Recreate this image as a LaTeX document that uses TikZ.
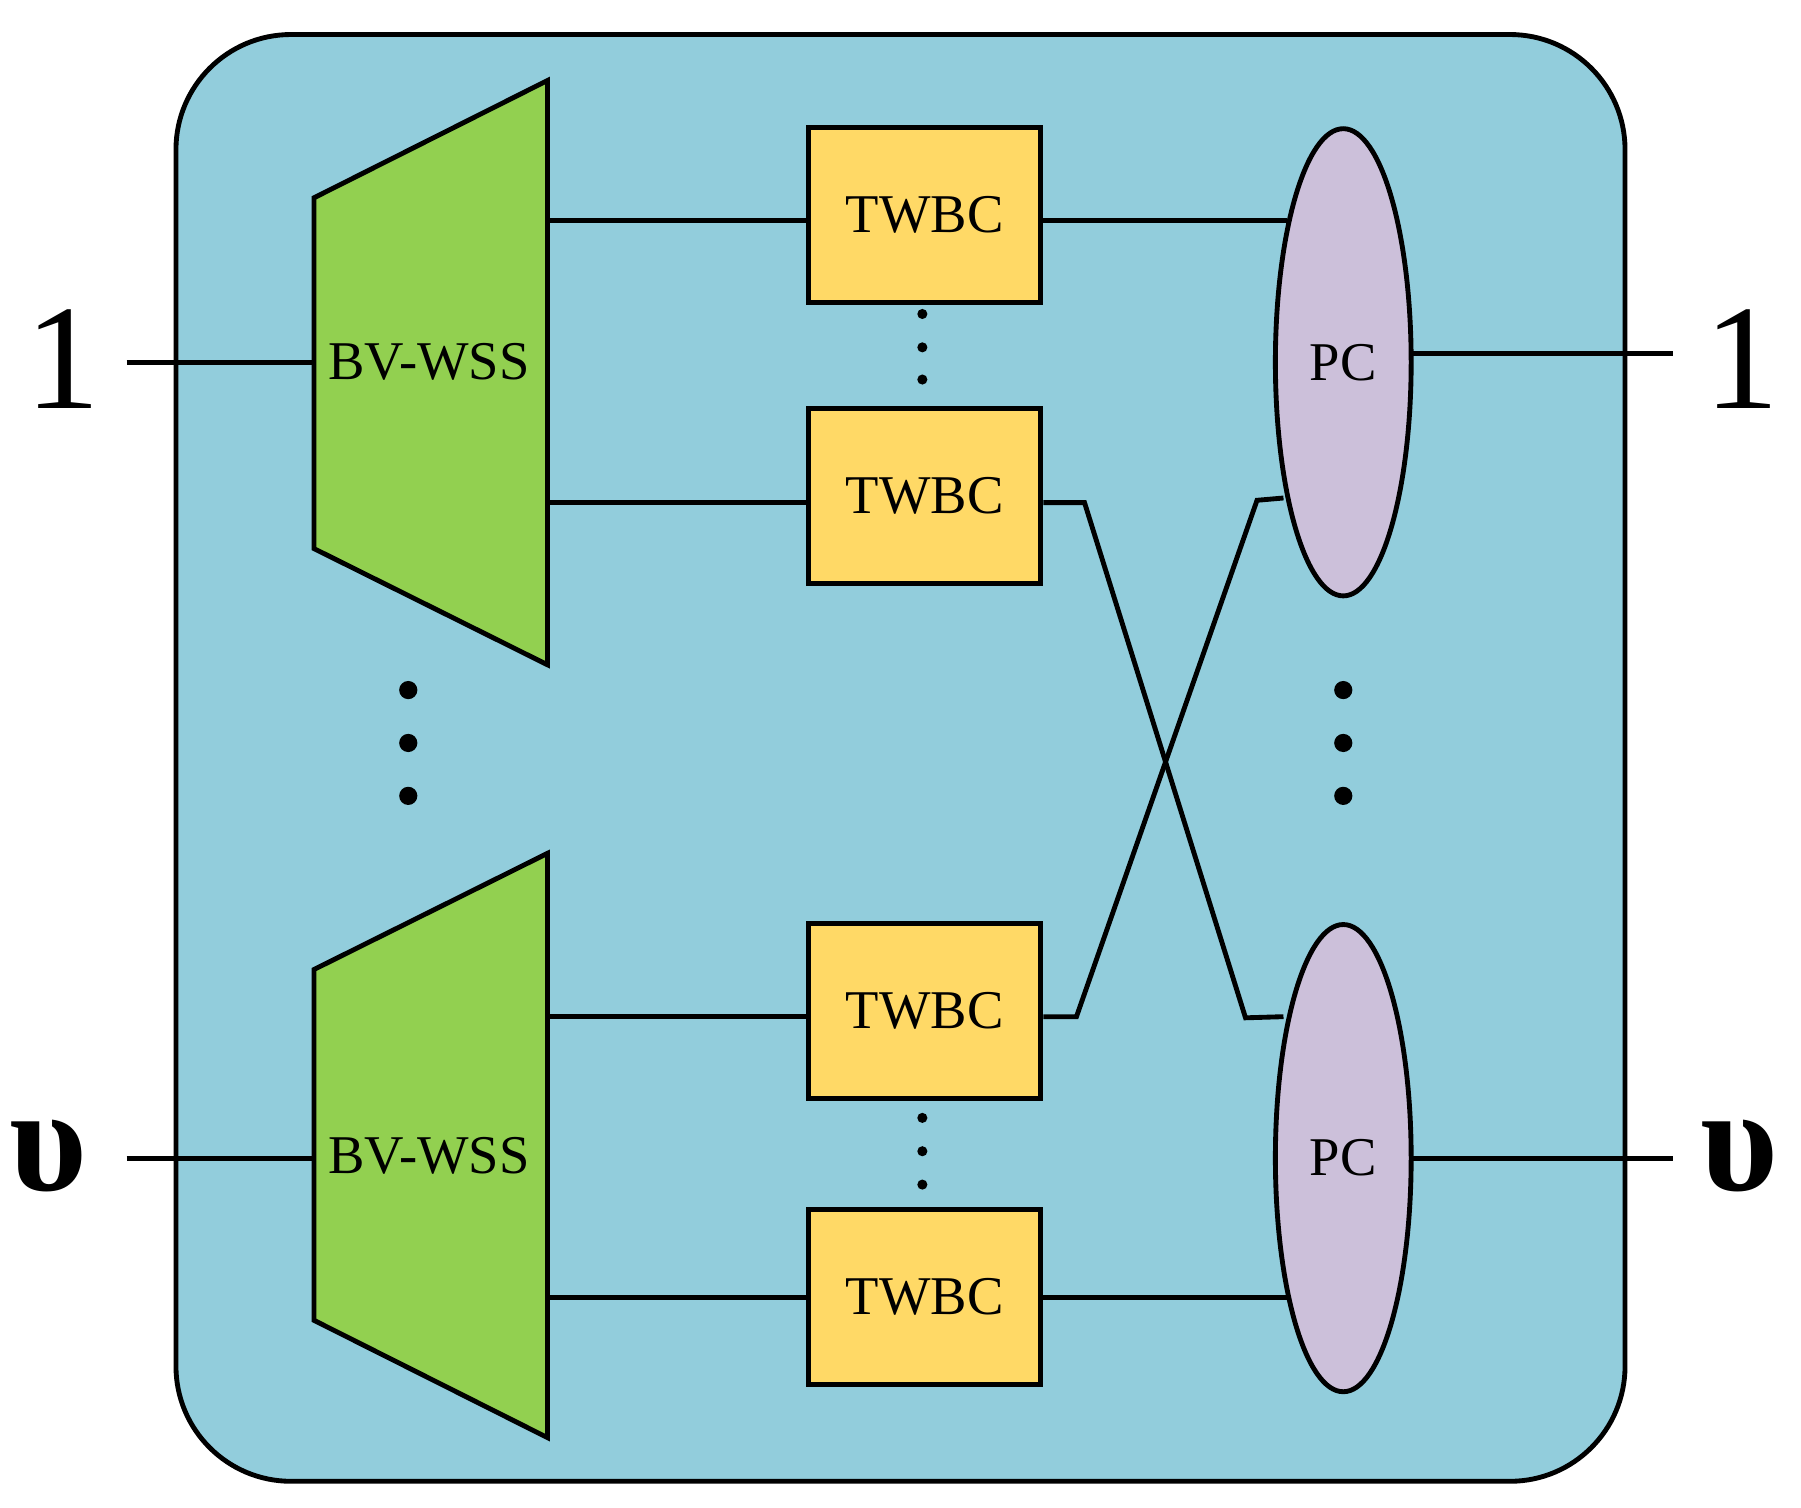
\documentclass[tikz,border=0pt]{standalone}
\usepackage{fontspec}
\setmainfont{Liberation Serif}
\usetikzlibrary{shapes.geometric}
\definecolor{bgblue}{HTML}{92CDDC}
\definecolor{wssgreen}{HTML}{92D050}
\definecolor{twyellow}{HTML}{FFD966}
\definecolor{pclav}{HTML}{CCC0DA}
\begin{document}
\begin{tikzpicture}[x=0.01cm,y=-0.01cm,line width=1.2pt,
  tw/.style={draw,fill=twyellow,minimum width=2.02cm,minimum height=1.52cm,font=\fontsize{13.5}{15}\selectfont,inner sep=0},
  pc/.style={draw,ellipse,fill=pclav,minimum width=1.18cm,minimum height=4.06cm,inner sep=0,font=\fontsize{13.5}{15}\selectfont},
  wss/.style={draw,fill=wssgreen},
  lbl/.style={font=\fontsize{13.5}{15}\selectfont},
  big/.style={font=\fontsize{37}{40}\selectfont},
  sdot/.style={circle,fill,inner sep=0,minimum size=2.5pt},
  bdot/.style={circle,fill,inner sep=0,minimum size=4.5pt}]
\useasboundingbox (0,0) rectangle (1566,1311);
\draw[fill=bgblue,rounded corners=1cm] (153,30) rectangle (1413,1288);
% BV-WSS
\draw[wss] (273,172) -- (476,70) -- (476,578) -- (273,477) -- cycle;
\draw[wss] (273,843) -- (476,742) -- (476,1250) -- (273,1148) -- cycle;
\node[lbl] (w1) at (373,315) {BV-WSS};
\node[lbl] (w2) at (373,1005) {BV-WSS};
% TWBC
\node[tw] (t1) at (804,187) {TWBC};
\node[tw] (t2) at (804,431) {TWBC};
\node[tw] (t3) at (804,879) {TWBC};
\node[tw] (t4) at (804,1128) {TWBC};
% PC
\node[pc] (p1) at (1168,315) {PC};
\node[pc] (p2) at (1168,1007) {PC};
% coordinates
\coordinate (a1) at (476,192); \coordinate (a2) at (476,437);
\coordinate (a3) at (476,884); \coordinate (a4) at (476,1128);
\coordinate (in1) at (110,315); \coordinate (wi1) at (273,315);
\coordinate (in2) at (110,1007); \coordinate (wi2) at (273,1007);
\coordinate (o1a) at (1229,307); \coordinate (o1b) at (1455,307);
\coordinate (o2a) at (1229,1007); \coordinate (o2b) at (1455,1007);
\coordinate (e1) at (1119,192); \coordinate (e2) at (1116,433);
\coordinate (e3) at (1116,884); \coordinate (e4) at (1119,1128);
% labels
\node[big] (l1) at (55,312) {1};
\node[big] (r1) at (1515,312) {1};
\node[big] (l2) at (42,1005) {\textbf{υ}};
\node[big] (r2) at (1512,1005) {\textbf{υ}};
% connections
\draw (in1) -- (wi1);
\draw (in2) -- (wi2);
\draw (o1a) -- (o1b);
\draw (o2a) -- (o2b);
\draw (a1) -- (a1 -| t1.west);
\draw (a2) -- (a2 -| t2.west);
\draw (a3) -- (a3 -| t3.west);
\draw (a4) -- (a4 -| t4.west);
\draw (t1.east |- e1) -- (e1);
\draw (t4.east |- e4) -- (e4);
\draw (t2.east |- 0,437) -- (943,437) -- (1083,885) -- (e3);
\draw (t3.east |- 0,884) -- (936,884) -- (1093,435) -- (e2);
% dots
\foreach \y/\n in {273/a,302/b,330/c} \node[sdot] (d1\n) at (802,\y) {};
\foreach \y/\n in {972/a,1001/b,1030/c} \node[sdot] (d2\n) at (802,\y) {};
\foreach \y/\n in {600/a,646/b,692/c} {\node[bdot] (d3\n) at (355,\y) {}; \node[bdot] (d4\n) at (1168,\y) {};}
\end{tikzpicture}
\end{document}
